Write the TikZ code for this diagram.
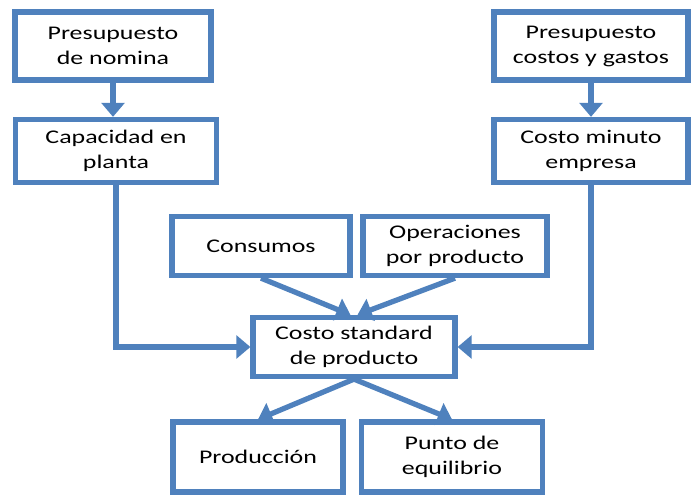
\documentclass[tikz,border=0pt]{standalone}
\usepackage{fontspec}
\setmainfont{Carlito}[FakeStretch=1.34]
\usetikzlibrary{arrows.meta}
\definecolor{boxblue}{RGB}{79,129,189}

\begin{document}
\begin{tikzpicture}[x=0.02cm,y=-0.02cm,line join=miter,
    every node/.style={inner sep=1pt},
    caja/.style={draw=boxblue,line width=3pt,fill=white,align=center,
      font=\fontsize{11}{14.2}\selectfont,minimum height=1.22cm},
    flecha/.style={draw=boxblue,line width=3pt,-{Triangle[width=13pt,length=8pt]}}]
  \useasboundingbox (0,0) rectangle (697,496);
  % fila de arriba
  \node[caja,minimum width=3.92cm,minimum height=1.36cm] (nomina) at (113,46) {Presupuesto\\de nomina};
  \node[caja,minimum width=3.88cm,minimum height=1.36cm] (gastos) at (591,46) {Presupuesto\\costos y gastos};
  \node[caja,minimum width=4.02cm,minimum height=1.26cm] (planta) at (116,151) {Capacidad en\\planta};
  \node[caja,minimum width=3.88cm,minimum height=1.26cm] (minuto) at (591,151) {Costo minuto\\empresa};
  % centro
  \node[caja,minimum width=3.56cm,minimum height=1.18cm] (consumos) at (261,246) {Consumos};
  \node[caja,minimum width=3.68cm,minimum height=1.18cm] (operaciones) at (455,246) {Operaciones\\por producto};
  \node[caja,minimum width=4.04cm,minimum height=1.18cm] (standard) at (354,347) {Costo standard\\de producto};
  % abajo
  \node[caja,minimum width=3.40cm,minimum height=1.40cm] (produccion) at (258,457) {Producción};
  \node[caja,minimum width=3.62cm,minimum height=1.40cm] (equilibrio) at (452,457) {Punto de\\equilibrio};
  % conectores
  \draw[flecha] (nomina.south) -- (nomina.south |- planta.north);
  \draw[flecha] (gastos.south) -- (gastos.south |- minuto.north);
  \draw[flecha] (planta.south) |- (standard.west);
  \draw[flecha] (minuto.south) |- (standard.east);
  \draw[flecha] (consumos.south) -- ([xshift=-2pt]standard.north);
  \draw[flecha] (operaciones.south) -- ([xshift=2pt]standard.north);
  \draw[flecha] (standard.south) -- (produccion.north);
  \draw[flecha] (standard.south) -- (equilibrio.north);
\end{tikzpicture}
\end{document}
